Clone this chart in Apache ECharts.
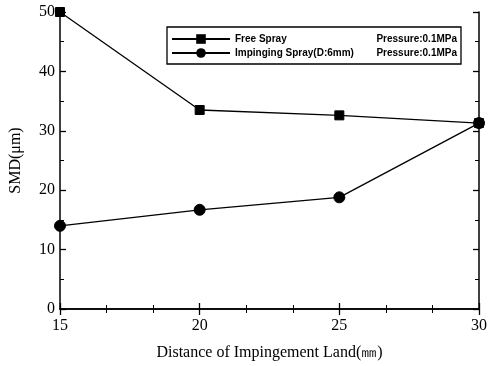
<!DOCTYPE html>
<html>
<head>
<meta charset="utf-8">
<script src="https://cdn.jsdelivr.net/npm/echarts@6/dist/echarts.min.js"></script>
<style>
  html, body { margin: 0; padding: 0; background: #fff; }
  #chart { width: 490px; height: 366px; }
</style>
</head>
<body>
<div id="chart"></div>
<script>
// Distance of impingement land (mm)
const distances = [15, 20, 25, 30];
// Sauter mean diameter (μm)
const freeSpray = [50, 33.5, 32.6, 31.3];
const impingingSpray = [14.0, 16.7, 18.8, 31.3];

const seriesNames = ['Free Spray', 'Impinging Spray(D:6mm)'];
const pressureNote = 'Pressure:0.1MPa';

const xTicks = { min: 15, max: 30, interval: 5 };
const yTicks = { min: 0, max: 50, interval: 10 };

const serif = '"Liberation Serif", "DejaVu Serif", serif';
const ink = '#000';

const chart = echarts.init(document.getElementById('chart'), null, { renderer: 'canvas' });

const axisBase = {
  type: 'value',
  axisLine: { show: true, lineStyle: { color: ink, width: 1.5 } },
  axisTick: { show: true, inside: true, length: 6, lineStyle: { color: ink, width: 1.3 } },
  minorTick: { show: true, length: 4, lineStyle: { color: ink, width: 1 } },
  splitLine: { show: false },
  axisLabel: { color: ink, fontFamily: serif, fontSize: 16 }
};

function pairs(values) {
  return distances.map((d, i) => [d, values[i]]);
}

chart.setOption({
  animation: false,
  backgroundColor: '#fff',
  grid: { left: 60, right: 6, top: 12, bottom: 56 },
  legend: {
    left: 167,
    top: 27,
    orient: 'vertical',
    data: seriesNames,
    itemWidth: 58,
    itemHeight: 12,
    itemGap: 4,
    padding: [7, 4, 6, 4],
    borderColor: ink,
    borderWidth: 1.3,
    backgroundColor: '#fff',
    formatter: name => `{a|${name}}{b|${pressureNote}}`,
    textStyle: {
      rich: {
        a: { width: 134, fontFamily: 'Arial, "Liberation Sans", sans-serif', fontWeight: 'bold', fontSize: 10, color: ink },
        b: { width: 88, align: 'right', fontFamily: 'Arial, "Liberation Sans", sans-serif', fontWeight: 'bold', fontSize: 10, color: ink }
      }
    }
  },
  xAxis: [
    Object.assign({}, axisBase, {
      min: xTicks.min, max: xTicks.max, interval: xTicks.interval,
      minorTick: Object.assign({}, axisBase.minorTick, { splitNumber: 3 }),
      axisLabel: Object.assign({}, axisBase.axisLabel, { margin: 9 }),
      name: 'Distance of Impingement Land(㎜)',
      nameLocation: 'middle',
      nameGap: 36,
      nameTextStyle: { color: ink, fontFamily: serif, fontSize: 16 }
    }),
    Object.assign({}, axisBase, {
      position: 'top',
      min: xTicks.min, max: xTicks.max, interval: xTicks.interval,
      minorTick: Object.assign({}, axisBase.minorTick, { splitNumber: 3 }),
      axisLabel: { show: false }
    })
  ],
  yAxis: [
    Object.assign({}, axisBase, {
      min: yTicks.min, max: yTicks.max, interval: yTicks.interval,
      minorTick: Object.assign({}, axisBase.minorTick, { splitNumber: 2 }),
      axisLabel: Object.assign({}, axisBase.axisLabel, { margin: 5 }),
      name: 'SMD(μm)',
      nameLocation: 'middle',
      nameGap: 36,
      nameRotate: 90,
      nameTextStyle: { color: ink, fontFamily: serif, fontSize: 16 }
    }),
    Object.assign({}, axisBase, {
      position: 'right',
      min: yTicks.min, max: yTicks.max, interval: yTicks.interval,
      minorTick: Object.assign({}, axisBase.minorTick, { splitNumber: 2 }),
      axisLabel: { show: false }
    })
  ],
  series: [
    {
      name: seriesNames[0],
      type: 'line',
      data: pairs(freeSpray),
      symbol: 'rect',
      symbolSize: 9,
      lineStyle: { color: ink, width: 1.3 },
      itemStyle: { color: ink, borderColor: ink },
      z: 3
    },
    {
      name: seriesNames[1],
      type: 'line',
      data: pairs(impingingSpray),
      symbol: 'circle',
      symbolSize: 11,
      lineStyle: { color: ink, width: 1.3 },
      itemStyle: { color: ink, borderColor: ink },
      z: 3
    }
  ]
});
</script>
</body>
</html>
